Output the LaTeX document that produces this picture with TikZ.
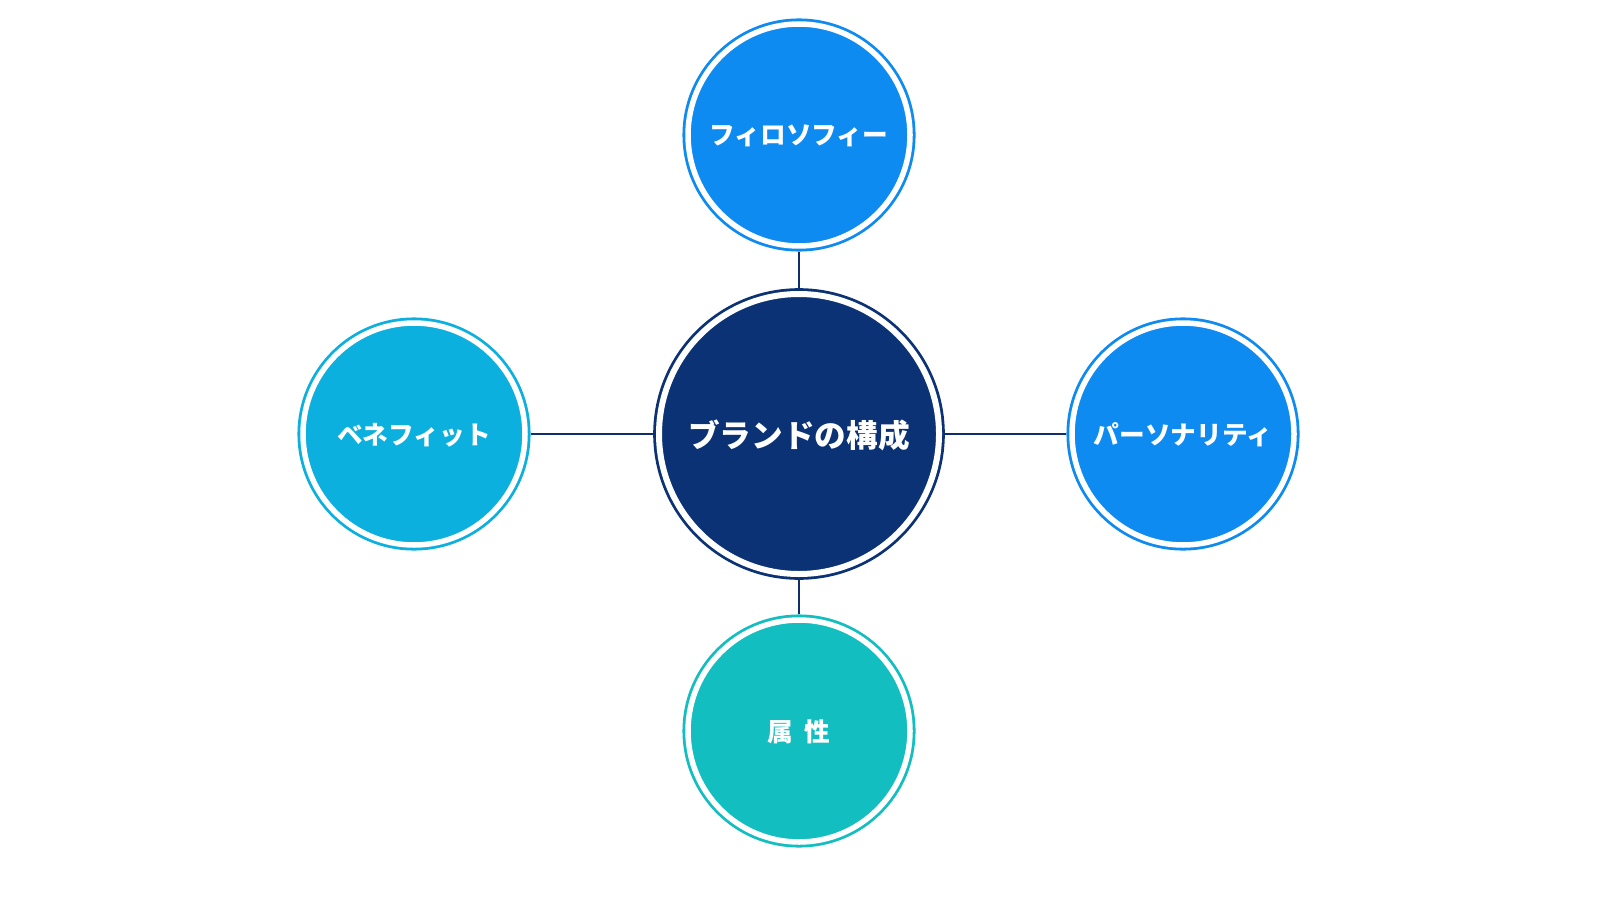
\documentclass[tikz,border=0pt]{standalone}
\usepackage{fontspec}
\newfontfamily\jpfont{Noto Sans CJK JP}
\usetikzlibrary{positioning}
\definecolor{navy}{RGB}{11,50,117}
\definecolor{navyline}{RGB}{16,46,108}
\definecolor{skyblue}{RGB}{14,139,241}
\definecolor{cyanblue}{RGB}{12,176,222}
\definecolor{teal}{RGB}{19,190,192}

\begin{document}
\begin{tikzpicture}
  \tikzstyle{hubcircle} = [circle, draw=navy, fill=navy, line width=.8pt, double=white,
                                    double distance=.06cm, minimum size=2.8cm, outer sep=.058cm,
                                    text=white, text depth=0pt, font=\jpfont\bfseries\fontsize{9}{11}\selectfont]
  \tikzstyle{part} = [circle, line width=.8pt, double=white, double distance=.055cm,
                                    minimum size=2.22cm, outer sep=.056cm,
                                    text=white, text depth=0pt, font=\jpfont\bfseries\fontsize{7.3}{9}\selectfont]
  \tikzstyle{link} = [draw=navyline, line width=.6pt]
\useasboundingbox (0,0) rectangle (16,9);
\node[hubcircle] (brand) at (7.99,4.66) {ブランドの構成};
\node[part, draw=skyblue, fill=skyblue, above of =brand, yshift=1.99cm] (phil) {フィロソフィー};
\node[part, draw=cyanblue, fill=cyanblue, left of =brand, xshift=-2.85cm] (bene) {ベネフィット};
\node[part, draw=skyblue, fill=skyblue, right of =brand, xshift=2.84cm] (pers) {パーソナリティ};
\node[part, draw=teal, fill=teal, below of =brand, yshift=-1.97cm] (attr) {属\hspace{.45em}性};
\draw[link] (brand) -- (phil);
\draw[link] (brand) -- (bene);
\draw[link] (brand) -- (pers);
\draw[link] (brand) -- (attr);
\end{tikzpicture}
\end{document}
